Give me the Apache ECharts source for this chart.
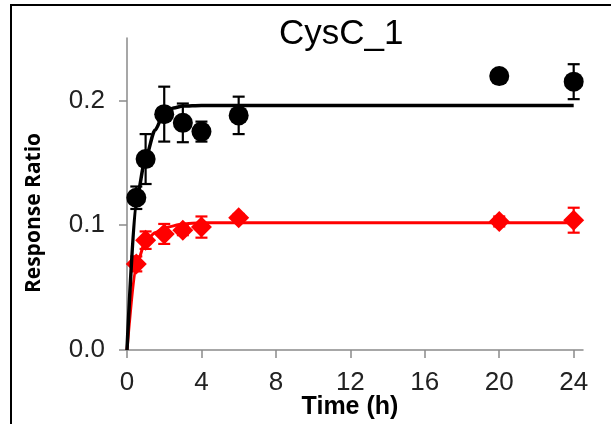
<!DOCTYPE html>
<html>
<head>
<meta charset="utf-8">
<script src="https://cdn.jsdelivr.net/npm/echarts@6/dist/echarts.min.js"></script>
<style>
  html, body { margin: 0; padding: 0; background: #fff; }
  #chart { width: 611px; height: 424px; }
</style>
</head>
<body>
<div id="chart"></div>
<script>
// Sampling times (h)
const times = [0.5, 1, 2, 3, 4, 6, 20, 24];

// Measured response ratios with standard deviations
const blackMean = [0.122, 0.153, 0.189, 0.182, 0.175, 0.188, 0.2195, 0.215];
const blackSd   = [0.009, 0.020, 0.022, 0.0155, 0.008, 0.015, 0.004, 0.014];
const redMean   = [0.069, 0.088, 0.093, 0.096, 0.0985, 0.106, 0.103, 0.104];
const redSd     = [0.006, 0.007, 0.008, 0.004, 0.0085, 0.003, 0.004, 0.010];

// Fitted uptake curves
const blackFitT = [0, 0.5, 1, 1.5, 2, 2.5, 3, 4, 6, 24];
const blackFitY = [0, 0.120, 0.154, 0.176, 0.190, 0.194, 0.1955, 0.196, 0.196, 0.196];
const redFitT   = [0, 0.5, 1, 1.5, 2, 3, 4, 6, 24];
const redFitY   = [0, 0.068, 0.087, 0.094, 0.098, 0.101, 0.102, 0.102, 0.102];

// Axis ticks
const xTicks = [0, 4, 8, 12, 16, 20, 24];
const yTicks = [0, 0.1, 0.2];

const pairs = (xs, ys) => xs.map((x, i) => [x, ys[i]]);
const triples = (xs, ys, es) => xs.map((x, i) => [x, ys[i], es[i]]);

function errorBars(color) {
  return function (params, api) {
    const x = api.value(0), y = api.value(1), e = api.value(2);
    const top = api.coord([x, y + e]);
    const bot = api.coord([x, y - e]);
    const half = 6;
    const style = { stroke: color, lineWidth: 2.2 };
    return {
      type: 'group',
      children: [
        { type: 'line', shape: { x1: top[0], y1: top[1], x2: bot[0], y2: bot[1] }, style },
        { type: 'line', shape: { x1: top[0] - half, y1: top[1], x2: top[0] + half, y2: top[1] }, style },
        { type: 'line', shape: { x1: bot[0] - half, y1: bot[1], x2: bot[0] + half, y2: bot[1] }, style }
      ]
    };
  };
}

const axisGray = '#8a8a8a';
const chart = echarts.init(document.getElementById('chart'), null, { renderer: 'canvas' });

chart.setOption({
  animation: false,
  backgroundColor: '#fff',
  title: {
    text: 'CysC_1',
    left: 274,
    top: 12,
    textStyle: { fontFamily: 'Liberation Sans, Arial, sans-serif', fontSize: 35, fontWeight: 'normal', color: '#000' }
  },
  graphic: [
    {
      type: 'rect',
      shape: { x: 11, y: 5, width: 700, height: 500 },
      style: { fill: 'none', stroke: '#000', lineWidth: 2 },
      silent: true
    },
    {
      type: 'text',
      x: 34, y: 213,
      rotation: Math.PI / 2,
      style: {
        text: 'Response Ratio',
        fontFamily: 'Open Sans, sans-serif',
        fontWeight: 'bold',
        fontSize: 21,
        fill: '#000',
        align: 'center',
        verticalAlign: 'middle'
      }
    },
    {
      type: 'text',
      x: 350, y: 407,
      style: {
        text: 'Time (h)',
        fontFamily: 'Liberation Sans, Arial, sans-serif',
        fontWeight: 'bold',
        fontSize: 25,
        fill: '#000',
        align: 'center',
        verticalAlign: 'middle'
      }
    }
  ],
  grid: { left: 127, right: 28, top: 38, bottom: 74, containLabel: false },
  xAxis: {
    type: 'value',
    min: 0,
    max: 24.5,
    splitLine: { show: false },
    axisLine: { show: true, onZero: false, lineStyle: { color: axisGray, width: 1.5 } },
    axisTick: { show: true, length: 8, customValues: xTicks, lineStyle: { color: axisGray, width: 1.5 } },
    axisLabel: {
      customValues: xTicks,
      margin: 20,
      fontFamily: 'Liberation Sans, Arial, sans-serif',
      fontSize: 26,
      color: '#222'
    }
  },
  yAxis: {
    type: 'value',
    min: 0,
    max: 0.25,
    splitLine: { show: false },
    axisLine: { show: true, onZero: false, lineStyle: { color: axisGray, width: 1.5 } },
    axisTick: { show: true, length: 8, customValues: yTicks, lineStyle: { color: axisGray, width: 1.5 } },
    axisLabel: {
      customValues: yTicks,
      margin: 22,
      formatter: v => v.toFixed(1),
      fontFamily: 'Liberation Sans, Arial, sans-serif',
      fontSize: 26,
      color: '#222'
    }
  },
  series: [
    {
      name: 'red fit',
      type: 'line',
      data: pairs(redFitT, redFitY),
      showSymbol: false,
      smooth: 0.25,
      smoothMonotone: 'x',
      lineStyle: { color: '#ff0000', width: 3 },
      z: 2
    },
    {
      name: 'red sd',
      type: 'custom',
      data: triples(times, redMean, redSd),
      renderItem: errorBars('#ff0000'),
      encode: { x: 0, y: 1 },
      z: 3
    },
    {
      name: 'red',
      type: 'scatter',
      data: pairs(times, redMean),
      symbol: 'diamond',
      symbolSize: 21,
      itemStyle: { color: '#ff0000', opacity: 1 },
      z: 4
    },
    {
      name: 'black fit',
      type: 'line',
      data: pairs(blackFitT, blackFitY),
      showSymbol: false,
      smooth: 0.25,
      smoothMonotone: 'x',
      lineStyle: { color: '#000', width: 3.5 },
      z: 5
    },
    {
      name: 'black sd',
      type: 'custom',
      data: triples(times, blackMean, blackSd),
      renderItem: errorBars('#000'),
      encode: { x: 0, y: 1 },
      z: 6
    },
    {
      name: 'black',
      type: 'scatter',
      data: pairs(times, blackMean),
      symbol: 'circle',
      symbolSize: 20,
      itemStyle: { color: '#000', opacity: 1 },
      z: 7
    }
  ]
});
</script>
</body>
</html>
